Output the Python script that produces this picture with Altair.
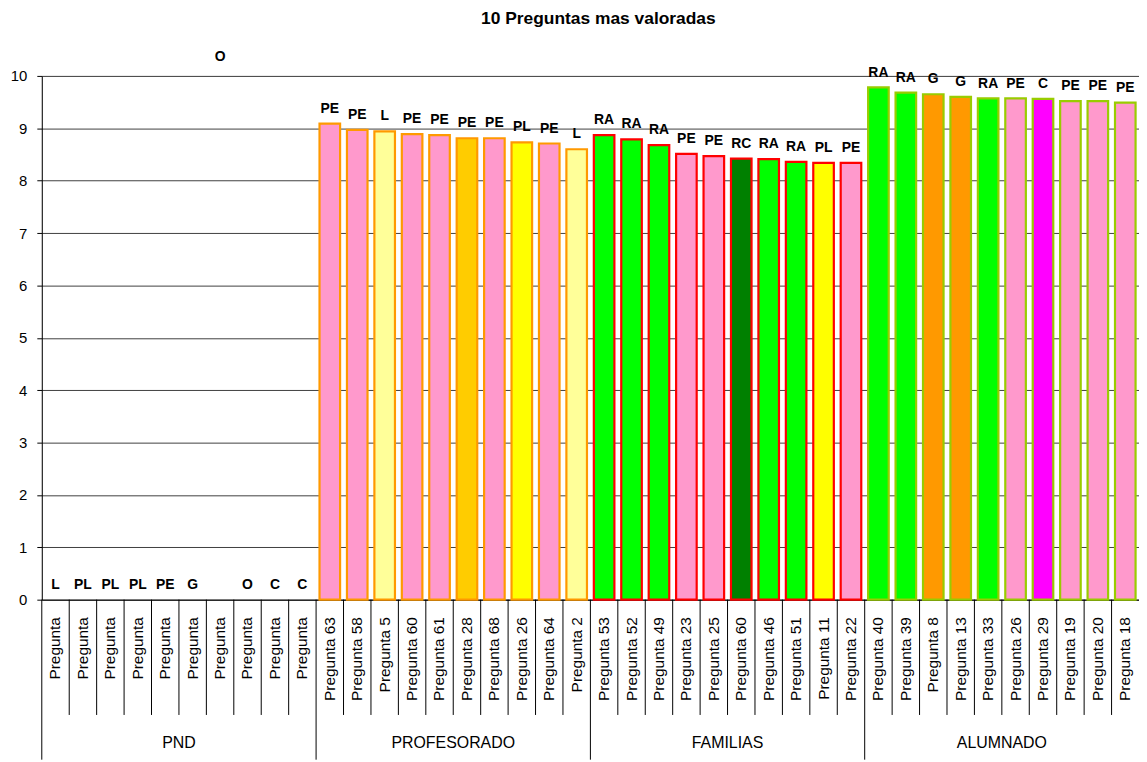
import json
import altair as alt
import pandas as pd

title_text = "10 Preguntas mas valoradas"
groups = ["PND", "PROFESORADO", "FAMILIAS", "ALUMNADO"]
group_strokes = ["transparent", "#FF9900", "#FF0000", "#99CC00"]

pnd_names = ["Pregunta"] * 10
pnd_values = [0, 0, 0, 0, 0, 0, 10.08, 0, 0, 0]
pnd_labels = ["L", "PL", "PL", "PL", "PE", "G", "O", "O", "C", "C"]
pnd_fills = ["transparent"] * 10

prof_names = ["Pregunta 63", "Pregunta 58", "Pregunta 5", "Pregunta 60", "Pregunta 61",
              "Pregunta 28", "Pregunta 68", "Pregunta 26", "Pregunta 64", "Pregunta 2"]
prof_values = [9.09, 8.97, 8.94, 8.89, 8.87, 8.81, 8.81, 8.73, 8.71, 8.60]
prof_labels = ["PE", "PE", "L", "PE", "PE", "PE", "PE", "PL", "PE", "L"]
prof_fills = ["#FF99CC", "#FF99CC", "#FFFF99", "#FF99CC", "#FF99CC",
              "#FFCC00", "#FF99CC", "#FFFF00", "#FF99CC", "#FFFF99"]

fam_names = ["Pregunta 53", "Pregunta 52", "Pregunta 49", "Pregunta 23", "Pregunta 25",
             "Pregunta 60", "Pregunta 46", "Pregunta 51", "Pregunta 11", "Pregunta 22"]
fam_values = [8.87, 8.79, 8.68, 8.51, 8.47, 8.42, 8.41, 8.36, 8.34, 8.34]
fam_labels = ["RA", "RA", "RA", "PE", "PE", "RC", "RA", "RA", "PL", "PE"]
fam_fills = ["#00FF00", "#00FF00", "#00FF00", "#FF99CC", "#FF99CC",
             "#008000", "#00FF00", "#00FF00", "#FFFF00", "#FF99CC"]

alu_names = ["Pregunta 40", "Pregunta 39", "Pregunta 8", "Pregunta 13", "Pregunta 33",
             "Pregunta 26", "Pregunta 29", "Pregunta 19", "Pregunta 20", "Pregunta 18"]
alu_values = [9.78, 9.68, 9.65, 9.60, 9.57, 9.57, 9.56, 9.52, 9.52, 9.49]
alu_labels = ["RA", "RA", "G", "G", "RA", "PE", "C", "PE", "PE", "PE"]
alu_fills = ["#00FF00", "#00FF00", "#FF9900", "#FF9900", "#00FF00",
             "#FF99CC", "#FF00FF", "#FF99CC", "#FF99CC", "#FF99CC"]

all_sets = [
    (pnd_names, pnd_values, pnd_labels, pnd_fills),
    (prof_names, prof_values, prof_labels, prof_fills),
    (fam_names, fam_values, fam_labels, fam_fills),
    (alu_names, alu_values, alu_labels, alu_fills),
]

rows = []
names = []
for g, (nm, vals, labs, fills) in enumerate(all_sets):
    for i in range(len(nm)):
        rows.append(dict(idx=g * 10 + i, name=nm[i], value=vals[i], label=labs[i],
                         fill=fills[i], stroke=group_strokes[g], group=groups[g]))
        names.append(nm[i])
df = pd.DataFrame(rows)

N = len(names)
W, H = 1104, 527
STEP = W / N
HALF_GAP = STEP * 0.125
FONT = "Liberation Sans"
BOTTOM = 161

xscale = alt.Scale(paddingInner=0.25, paddingOuter=0.125, round=False)
x_axis = alt.Axis(title=None, labelExpr=json.dumps(names) + "[datum.value]",
                  labelAngle=270, labelAlign="right", labelBaseline="middle",
                  labelFontSize=15.5, labelFont=FONT, labelColor="black",
                  labelPadding=17, ticks=False, domainColor="black",
                  labelOverlap=False, grid=False)
y_axis = alt.Axis(title=None, values=list(range(11)), grid=True, gridColor="#404040",
                  tickSize=5, tickColor="black", domainColor="black",
                  labelFontSize=15, labelFont=FONT, labelColor="black",
                  labelPadding=10, format="d")

base = alt.Chart(df)
bars = base.mark_bar(strokeWidth=2.2).encode(
    x=alt.X("idx:O", scale=xscale, axis=x_axis),
    y=alt.Y("value:Q", scale=alt.Scale(domain=[0, 10], nice=False), axis=y_axis),
    fill=alt.Fill("fill:N", scale=None),
    stroke=alt.Stroke("stroke:N", scale=None),
)
labels = base.mark_text(dy=-15, fontSize=14, fontWeight="bold", baseline="middle",
                        color="black", font=FONT).encode(
    x="idx:O", y="value:Q", text="label:N")

sep_df = pd.DataFrame({"idx": list(range(N))})
short_sep = alt.Chart(sep_df[sep_df["idx"] % 10 != 0]).mark_rule(
    color="black", strokeWidth=1, xOffset=-HALF_GAP).encode(
    x=alt.X("idx:O", bandPosition=0), y=alt.value(H), y2=alt.value(H + 116))
long_sep = alt.Chart(sep_df[sep_df["idx"] % 10 == 0]).mark_rule(
    color="black", strokeWidth=1, xOffset=-HALF_GAP).encode(
    x=alt.X("idx:O", bandPosition=0), y=alt.value(H), y2=alt.value(H + BOTTOM))

gl_df = pd.DataFrame({"idx": [g * 10 + 5 for g in range(len(groups))], "group": groups})
group_labels = alt.Chart(gl_df).mark_text(
    xOffset=-HALF_GAP, fontSize=16, baseline="middle", color="black", font=FONT).encode(
    x=alt.X("idx:O", bandPosition=0), y=alt.value(H + 144), text="group:N")

chart = alt.layer(bars, labels, short_sep, long_sep, group_labels).properties(
    width=W, height=H,
    autosize=alt.AutoSizeParams(type="none"),
    padding={"left": 34, "top": 66, "right": 0, "bottom": BOTTOM},
    title=alt.TitleParams(title_text, fontSize=17.5, fontWeight="bold", font=FONT,
                          anchor="middle", dx=8, offset=23, color="black"),
).configure_view(stroke=None).configure(font=FONT)

chart.save("out.html", embed_options={"renderer": "svg", "actions": False})
